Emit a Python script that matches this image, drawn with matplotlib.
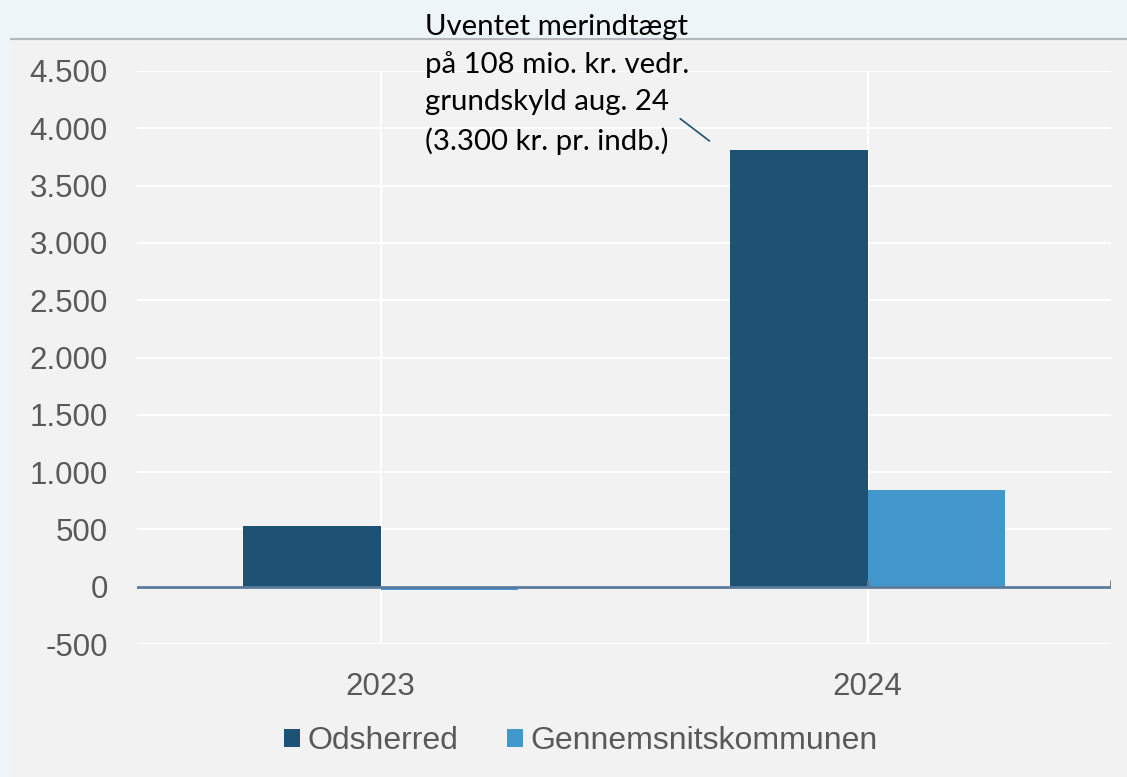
import matplotlib
matplotlib.use("Agg")
import matplotlib.pyplot as plt
import numpy as np
from matplotlib.patches import Rectangle

years = ["2023", "2024"]
odsherred = [530, 3810]
gennemsnit = [-25, 845]
yticks = [-500, 0, 500, 1000, 1500, 2000, 2500, 3000, 3500, 4000, 4500]
note = "Uventet merindtægt\npå 108 mio. kr. vedr.\ngrundskyld aug. 24\n(3.300 kr. pr. indb.)"

W, H = 1127, 777
dark = "#1d5275"
light = "#4297cc"
grey_txt = "#595959"

plt.rcParams['font.family'] = ['Liberation Sans', 'DejaVu Sans']

fig = plt.figure(figsize=(W / 100, H / 100), dpi=100, facecolor="#eef5f8")
# chart panel behind everything
fig.patches.append(Rectangle((11 / W, 0), 1 - 11 / W, (H - 39) / H, transform=fig.transFigure,
                             facecolor="#f2f2f2", edgecolor="none", zorder=-10))
fig.lines.append(plt.Line2D([11 / W, 1], [(H - 39) / H] * 2, transform=fig.transFigure,
                            color="#b4b8bc", lw=1.5, zorder=-9))

ax = fig.add_axes([137 / W, (H - 644) / H, (1111 - 137) / W, (644 - 71) / H])
ax.set_facecolor("none")
ax.set_zorder(1)

x = np.arange(len(years))
bw = 0.283
ax.bar(x - bw / 2, odsherred, bw, color=dark, label="Odsherred", zorder=3)
ax.bar(x + bw / 2, gennemsnit, bw, color=light, label="Gennemsnitskommunen", zorder=3)

ax.set_xlim(-0.5, 1.5)
ax.set_ylim(-500, 4500)
ax.set_yticks(yticks)
ax.set_yticklabels([f"{v:,}".replace(",", ".") for v in yticks])
ax.set_xticks(x)
ax.set_xticklabels(years)
ax.tick_params(axis="both", length=0, labelsize=22.5, labelcolor=grey_txt)
ax.tick_params(axis="y", pad=21)
ax.tick_params(axis="x", pad=20)
ax.grid(True, color="white", lw=1.5, zorder=1)
for s in ax.spines.values():
    s.set_visible(False)

ax.axhline(0, color="#5b7b9b", lw=2, zorder=4)
ax.vlines([1, 1.5], 0, 60, color="#5b7b9b", lw=2, zorder=4)

fig.text(425 / W, (H - 14) / H, note, ha="left", va="top", fontsize=21.2,
         family=["Lato", "DejaVu Sans"], color="black", linespacing=1.52, zorder=5)
ax.annotate("", xy=(0.68, 3875), xytext=(678, H - 117), textcoords="figure pixels",
            arrowprops=dict(arrowstyle="-", color=dark, lw=1.2))

fig.legend(loc="center", bbox_to_anchor=(581 / W, (H - 741) / H), ncol=2, frameon=False,
           fontsize=23, labelcolor=grey_txt, handlelength=0.5, handleheight=0.5,
           handletextpad=0.25, columnspacing=1.5)

fig.savefig("out.png", dpi=100, facecolor=fig.get_facecolor())
